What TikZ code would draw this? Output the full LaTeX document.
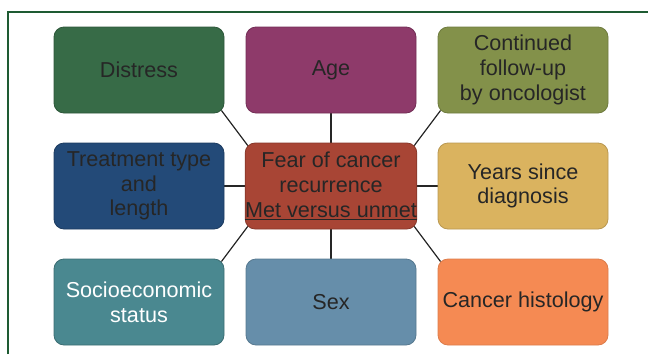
\documentclass[tikz,border=0pt]{standalone}
\usepackage{fontspec}
\setmainfont{Liberation Sans}
\usetikzlibrary{calc,backgrounds}
\definecolor{frame}{HTML}{1E5B32}
\definecolor{cdis}{HTML}{376B47}
\definecolor{cage}{HTML}{8E3A6A}
\definecolor{ccont}{HTML}{83914A}
\definecolor{ctreat}{HTML}{234A78}
\definecolor{cfear}{HTML}{A84535}
\definecolor{cyears}{HTML}{DAB35F}
\definecolor{csocio}{HTML}{4A8890}
\definecolor{csex}{HTML}{668EAA}
\definecolor{chist}{HTML}{F58A53}
\definecolor{txt}{HTML}{262626}
\begin{document}
\begin{tikzpicture}[x=1pt,y=-1pt,
  factor/.style={rounded corners=10pt, minimum width=170pt, minimum height=86pt,
    inner sep=0pt, align=center, text=txt, line width=0.8pt,
    font=\fontsize{21.6pt}{24.8pt}\selectfont},
  link/.style={draw=txt, line width=1.2pt}]
\useasboundingbox (0,0) rectangle (648,354);
\draw[frame, line width=2pt] (8,354) -- (8,11.5) -- (648,11.5);
\node[factor, fill=cdis, draw=cdis!80!black] (dis) at (139,70) {Distress};
\node[factor, fill=cage, draw=cage!80!black] (age) at (331,70) {Age};
\node[factor, fill=ccont, draw=ccont!85!black] (cont) at (523,70) {Continued\\follow-up\\by oncologist};
\node[factor, fill=ctreat, draw=ctreat!80!black] (treat) at (139,186) {Treatment type\\and\\length};
\node[factor, fill=cfear, draw=cfear!80!black] (fear) at (331,186) {Fear of cancer\\recurrence\\\underline{Met versus unmet}};
\node[factor, fill=cyears, draw=cyears!85!black] (years) at (523,186) {Years since\\diagnosis};
\node[factor, fill=csocio, draw=csocio!80!black, text=white] (socio) at (139,302) {Socioeconomic\\status};
\node[factor, fill=csex, draw=csex!85!black] (sex) at (331,302) {Sex};
\node[factor, fill=chist, draw=chist!90!black] (hist) at (523,302) {Cancer histology};
\begin{scope}[on background layer]
\draw[link] (age.south) -- (fear.north);
\draw[link] (fear.south) -- (sex.north);
\draw[link] (treat.east) -- (fear.west);
\draw[link] (fear.east) -- (years.west);
\draw[link] ($(dis.south east)+(-3,-3)$) -- ($(fear.north west)+(3,3)$);
\draw[link] ($(cont.south west)+(3,-3)$) -- ($(fear.north east)+(-3,3)$);
\draw[link] ($(socio.north east)+(-3,3)$) -- ($(fear.south west)+(3,-3)$);
\draw[link] ($(hist.north west)+(3,3)$) -- ($(fear.south east)+(-3,-3)$);
\end{scope}
\end{tikzpicture}
\end{document}
